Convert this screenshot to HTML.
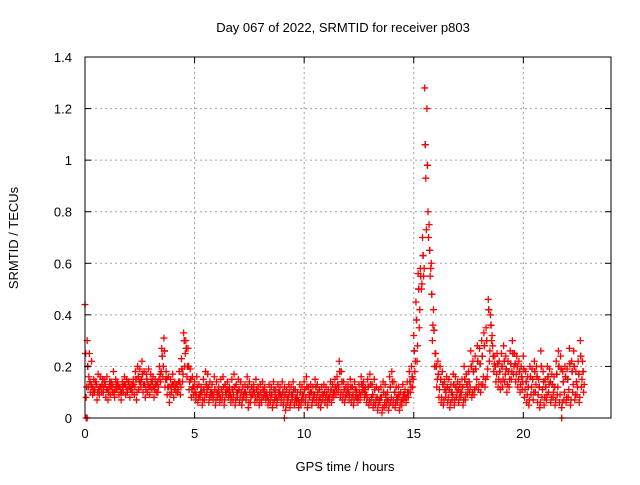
<!DOCTYPE html>
<html><head><meta charset="utf-8"><style>
body{margin:0;background:#fff}
svg text{font-family:"Liberation Sans",sans-serif;font-size:13px;fill:#000}
</style></head><body>
<svg id="chart" width="640" height="480" xmlns="http://www.w3.org/2000/svg">
<rect width="640" height="480" fill="#fff"/>
<text x="343" y="32" text-anchor="middle">Day 067 of 2022, SRMTID for receiver p803</text>
<text x="345" y="471" text-anchor="middle">GPS time / hours</text>
<text transform="translate(18,238) rotate(-90)" text-anchor="middle">SRMTID / TECUs</text>
<g id="grid"></g><g id="marks"></g><g id="axes"></g>
</svg>
<script>
const xTicks=[0,5,10,15,20];
const yTicks=[0,0.2,0.4,0.6,0.8,1,1.2,1.4];
const yTickLabels=["0","0.2","0.4","0.6","0.8","1","1.2","1.4"];
const startHour=0;
const stepHours=0.1;
const upper=[.44,.30,.25,.22,.15,.14,.17,.16,.15,.14,
.16,.12,.14,.18,.15,.13,.12,.14,.16,.15,
.14,.13,.15,.18,.20,.19,.22,.18,.17,.19,
.17,.16,.15,.14,.20,.27,.31,.18,.16,.15,
.17,.14,.13,.18,.23,.33,.30,.27,.19,.16,
.14,.16,.13,.12,.15,.18,.17,.14,.13,.16,
.14,.12,.15,.16,.13,.14,.12,.15,.17,.13,
.15,.14,.12,.13,.16,.14,.12,.13,.15,.12,
.13,.14,.12,.10,.13,.12,.14,.11,.13,.12,
.14,.12,.11,.13,.12,.14,.11,.10,.13,.12,
.14,.16,.12,.13,.12,.15,.13,.11,.12,.13,
.12,.11,.14,.13,.15,.16,.22,.18,.14,.12,
.13,.15,.12,.14,.11,.13,.16,.14,.12,.15,
.17,.13,.15,.12,.11,.12,.14,.13,.10,.16,
.18,.14,.12,.12,.10,.13,.11,.14,.18,.20,
.32,.45,.56,.58,.70,1.28,1.20,.75,.60,.42,
.25,.22,.20,.18,.14,.16,.15,.13,.17,.16,
.14,.13,.15,.20,.17,.18,.26,.22,.24,.28,
.27,.30,.33,.35,.46,.40,.28,.24,.25,.22,
.25,.28,.24,.22,.26,.30,.25,.24,.22,.20,
.24,.18,.16,.20,.19,.22,.20,.15,.26,.18,
.15,.20,.19,.17,.16,.22,.26,.24,.18,.20,
.19,.27,.22,.26,.18,.22,.30,.22];
const middleHigh=[.25,.20,.14,.12,.10,.13,.11,.12,.10,.13,
.11,.14,.12,.10,.13,.12,.10,.12,.13,.10,
.12,.11,.13,.15,.16,.14,.17,.13,.15,.12,
.14,.12,.13,.10,.17,.24,.26,.15,.12,.12,
.13,.12,.10,.14,.19,.30,.27,.20,.15,.12,
.10,.12,.09,.10,.11,.13,.12,.10,.09,.11,
.10,.09,.11,.12,.10,.11,.09,.11,.12,.10,
.11,.10,.09,.10,.12,.10,.09,.10,.11,.09,
.10,.11,.09,.08,.10,.09,.11,.08,.10,.09,
.10,.09,.08,.10,.09,.11,.08,.07,.10,.09,
.11,.12,.09,.10,.09,.12,.10,.08,.09,.10,
.09,.08,.11,.10,.12,.13,.18,.14,.11,.09,
.10,.12,.09,.11,.08,.10,.13,.11,.09,.12,
.13,.09,.11,.08,.07,.08,.10,.09,.07,.12,
.14,.10,.08,.09,.07,.09,.08,.10,.14,.16,
.26,.38,.50,.55,.63,1.06,.98,.65,.48,.34,
.20,.17,.15,.13,.11,.12,.11,.10,.13,.12,
.11,.10,.12,.15,.13,.14,.20,.18,.19,.22,
.21,.24,.28,.30,.42,.36,.24,.20,.21,.18,
.20,.22,.19,.18,.21,.25,.21,.20,.18,.16,
.19,.14,.12,.16,.15,.18,.16,.12,.20,.14,
.12,.16,.14,.13,.12,.17,.20,.19,.14,.16,
.15,.21,.18,.20,.14,.17,.24,.18];
const middleLow=[.12,.16,.13,.11,.14,.10,.12,.13,.15,.11,
.10,.12,.13,.11,.14,.12,.10,.13,.12,.14,
.11,.13,.12,.10,.14,.15,.13,.11,.13,.12,
.14,.11,.13,.15,.18,.20,.15,.12,.09,.13,
.11,.13,.14,.12,.17,.25,.20,.14,.11,.12,
.09,.08,.10,.07,.09,.11,.08,.10,.09,.07,
.10,.08,.09,.07,.11,.10,.08,.09,.07,.10,
.08,.07,.10,.09,.06,.08,.11,.08,.09,.07,
.08,.10,.09,.07,.08,.06,.09,.07,.10,.08,
.07,.05,.08,.06,.09,.07,.08,.06,.07,.09,
.08,.06,.10,.07,.09,.08,.07,.06,.09,.08,
.07,.09,.08,.10,.11,.12,.10,.09,.08,.11,
.09,.08,.07,.10,.08,.09,.12,.10,.08,.07,
.08,.06,.07,.05,.08,.04,.06,.07,.05,.08,
.07,.06,.08,.05,.07,.09,.08,.10,.12,.15,
.22,.28,.42,.52,.58,.73,.70,.58,.36,.25,
.15,.11,.08,.07,.10,.08,.06,.09,.07,.10,
.08,.10,.07,.09,.11,.12,.10,.11,.15,.13,
.13,.16,.15,.19,.26,.32,.21,.17,.15,.14,
.15,.17,.13,.15,.18,.20,.17,.15,.13,.14,
.11,.09,.07,.12,.10,.13,.09,.06,.11,.08,
.09,.13,.08,.10,.07,.12,.09,.06,.10,.08,
.11,.07,.13,.09,.12,.08,.15,.13];
const lower=[.08,.12,.10,.09,.11,.07,.09,.10,.12,.08,
.07,.09,.10,.08,.11,.09,.07,.10,.09,.11,
.08,.10,.09,.07,.11,.12,.10,.08,.10,.09,
.11,.08,.10,.12,.14,.16,.12,.09,.06,.10,
.08,.10,.11,.09,.14,.20,.16,.11,.08,.09,
.07,.06,.08,.05,.07,.09,.06,.08,.07,.05,
.08,.06,.07,.05,.09,.08,.06,.07,.05,.08,
.06,.05,.08,.07,.04,.06,.09,.06,.07,.05,
.06,.08,.07,.05,.06,.04,.07,.05,.08,.06,
.05,.03,.06,.04,.07,.05,.06,.04,.05,.07,
.06,.04,.08,.05,.07,.06,.05,.04,.07,.06,
.05,.07,.06,.08,.09,.10,.08,.07,.06,.09,
.07,.06,.05,.08,.06,.07,.10,.08,.06,.05,
.06,.04,.05,.03,.06,.02,.04,.05,.03,.06,
.05,.04,.06,.03,.05,.07,.06,.08,.10,.12,
.18,.22,.35,.50,.55,.93,.80,.55,.30,.20,
.12,.08,.06,.05,.08,.06,.04,.07,.05,.08,
.06,.08,.05,.07,.09,.10,.08,.09,.12,.11,
.10,.13,.12,.16,.22,.30,.18,.14,.12,.11,
.12,.14,.10,.12,.15,.17,.14,.12,.10,.11,
.08,.06,.05,.09,.07,.10,.06,.04,.08,.05,
.07,.10,.06,.08,.05,.09,.06,.04,.07,.06,
.08,.05,.10,.07,.09,.06,.12,.10];
const zeroTimes=[0.05,0.1,9.1,21.75];
const zeroValues=[0,0,0,0];

const L=85,R=611,T=57,B=418,xMax=24,yMax=1.4;
const xs=v=>L+(R-L)*v/xMax, ys=v=>B-(B-T)*v/yMax;
const NS="http://www.w3.org/2000/svg";
function mk(tag,parent){const e=document.createElementNS(NS,tag);parent.appendChild(e);return e;}
const grid=document.getElementById('grid'),marks=document.getElementById('marks'),axes=document.getElementById('axes');
xTicks.forEach(t=>{
 const x=xs(t);
 if(t>0){const g=mk('line',grid);
 g.setAttribute('x1',x);g.setAttribute('x2',x);g.setAttribute('y1',T);g.setAttribute('y2',B);g.setAttribute('stroke','#a0a0a0');g.setAttribute('stroke-dasharray','2,3');}
 [[B,B-6],[T,T+6]].forEach(p=>{const k=mk('line',axes);
 k.setAttribute('x1',x);k.setAttribute('x2',x);k.setAttribute('y1',p[0]);k.setAttribute('y2',p[1]);k.setAttribute('stroke','#000');});
 const tx=mk('text',axes);
 tx.setAttribute('x',x);tx.setAttribute('y',B+20);tx.setAttribute('text-anchor','middle');tx.textContent=t;
});
yTicks.forEach((t,i)=>{
 const y=ys(t);
 if(t>0&&t<yMax){const g=mk('line',grid);
 g.setAttribute('x1',L);g.setAttribute('x2',R);g.setAttribute('y1',y);g.setAttribute('y2',y);g.setAttribute('stroke','#a0a0a0');g.setAttribute('stroke-dasharray','2,3');}
 [[L,L+6],[R,R-6]].forEach(p=>{const k=mk('line',axes);
 k.setAttribute('x1',p[0]);k.setAttribute('x2',p[1]);k.setAttribute('y1',y);k.setAttribute('y2',y);k.setAttribute('stroke','#000');});
 const tx=mk('text',axes);
 tx.setAttribute('x',L-13);tx.setAttribute('y',y+5);tx.setAttribute('text-anchor','end');tx.textContent=yTickLabels[i];
});
const frame=mk('rect',axes);
frame.setAttribute('x',L);frame.setAttribute('y',T);frame.setAttribute('width',R-L);frame.setAttribute('height',B-T);frame.setAttribute('fill','none');frame.setAttribute('stroke','#000');
function cross(t,v,color){
 const x=xs(t),y=ys(v);
 const p=mk('path',marks);
 
 
 p.setAttribute('d',`M${x-3.5},${y}H${x+3.5}M${x},${y-3.5}V${y+3.5}`);p.setAttribute('stroke',color);p.setAttribute('stroke-width','1.3');
}
middleHigh.forEach((v,i)=>cross(startHour+i*stepHours+0.025,v,'#000'));
lower.forEach((v,i)=>cross(startHour+i*stepHours+0.05,v,'#f00'));
middleLow.forEach((v,i)=>cross(startHour+i*stepHours+0.075,v,'#f00'));
middleHigh.forEach((v,i)=>cross(startHour+i*stepHours+0.025,v,'#f00'));
upper.forEach((v,i)=>cross(startHour+i*stepHours,v,'#f00'));
zeroTimes.forEach((t,i)=>cross(t,zeroValues[i],'#f00'));
</script>
</body></html>
